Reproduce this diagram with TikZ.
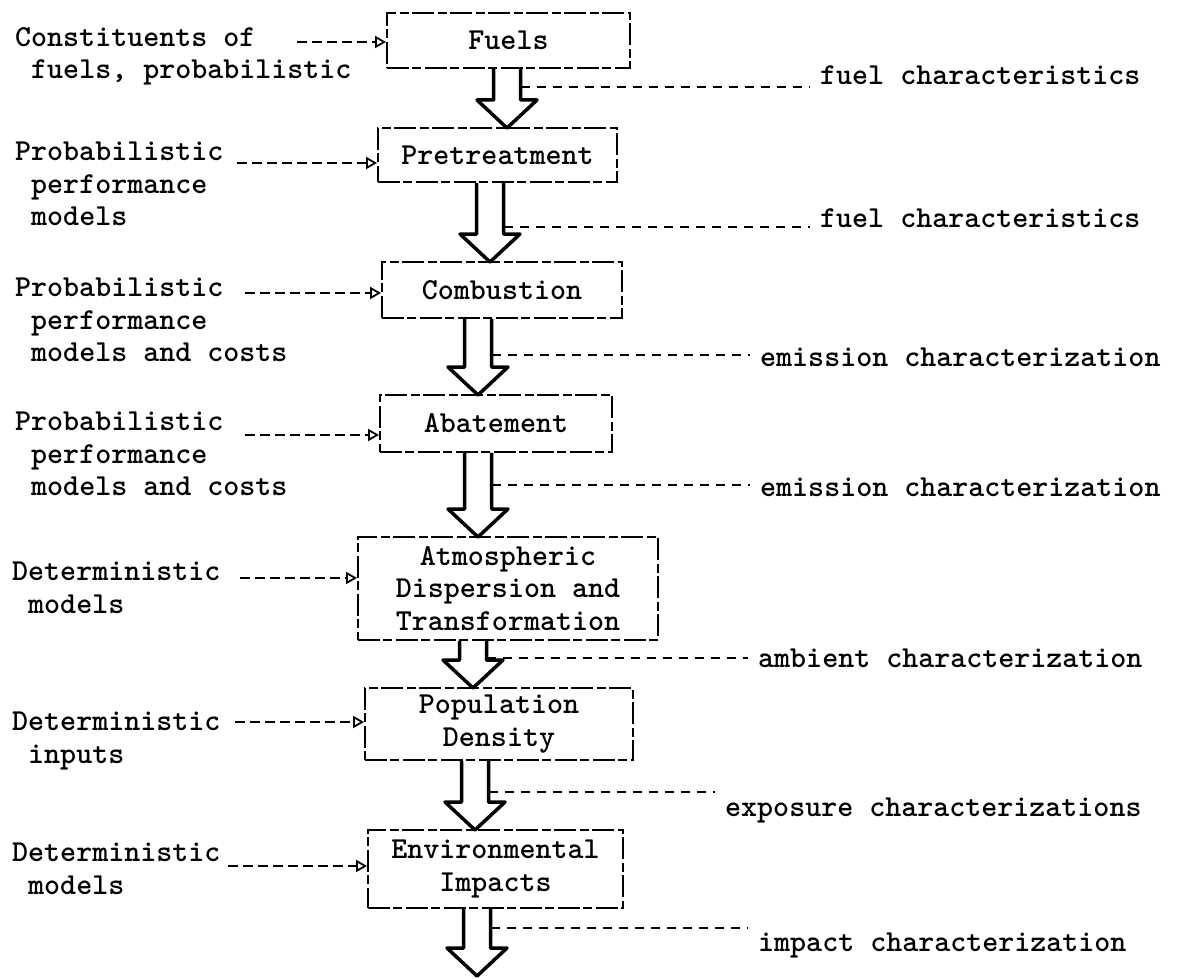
\documentclass[tikz,border=0pt]{standalone}
\usetikzlibrary{arrows.meta,calc}

\newcommand{\typew}{\fontsize{30.5}{32.5}\selectfont\ttfamily\bfseries}

\tikzset{
  stage/.style={draw, line width=1.8pt, dash pattern=on 22pt off 3pt on 9pt off 4pt,
    inner sep=0pt, align=center, font=\typew},
  source/.style={anchor=north west, inner sep=0pt, align=left, font=\typew},
  output/.style={anchor=base west, inner sep=0pt, font=\typew},
  hollow/.style={line width=3.5pt, line join=round},
  feed/.style={line width=1.2pt, dash pattern=on 9pt off 7pt, shorten >=10pt},
  feedin/.style={line width=1.4pt, dash pattern=on 10pt off 5pt,
    -{Triangle[open, length=11pt, width=12pt, line width=1.8pt]}}
}

% hollow block arrow from the bottom of a box down to a tip
\newcommand{\hollowarrow}[2]{%
  \draw[hollow] ($(#1.south -| #2)+(-13.5,0)$) -- ($(#2)+(-13.5,-28)$)
    -- ($(#2)+(-30,-28)$) -- (#2) -- ($(#2)+(30,-28)$)
    -- ($(#2)+(13.5,-28)$) -- ($(#1.south -| #2)+(13.5,0)$);}

\begin{document}
\begin{tikzpicture}[x=1pt,y=-1pt]
  \useasboundingbox (0,0) rectangle (1178,979);

  % stages
  \node[stage, minimum width=243pt, minimum height=55pt] (fuels) at (508.5,40.5) {Fuels};
  \node[stage, minimum width=239pt, minimum height=54pt] (pretreat) at (497.5,155) {Pretreatment};
  \node[stage, minimum width=240pt, minimum height=56pt] (combust) at (502,290) {Combustion};
  \node[stage, minimum width=232pt, minimum height=57pt] (abate) at (496,423.5) {Abatement};
  \node[stage, minimum width=300pt, minimum height=103pt] (atmos) at (508,588.5)
    {Atmospheric\\Dispersion and\\Transformation};
  \node[stage, minimum width=268pt, minimum height=72pt] (popdens) at (499,724)
    {Population\\Density};
  \node[stage, minimum width=255pt, minimum height=78pt] (envimp) at (495.5,869)
    {Environmental\\Impacts};

  % arrow tips
  \coordinate (t1) at (507,128);
  \coordinate (t2) at (490,262);
  \coordinate (t3) at (478,395);
  \coordinate (t4) at (478,537);
  \coordinate (t5) at (473,688);
  \coordinate (t6) at (475,830);
  \coordinate (t7) at (477,976);

  \hollowarrow{fuels}{t1}
  \hollowarrow{pretreat}{t2}
  \hollowarrow{combust}{t3}
  \hollowarrow{abate}{t4}
  \hollowarrow{atmos}{t5}
  \hollowarrow{popdens}{t6}
  \hollowarrow{envimp}{t7}

  % inputs on the left
  \node[source] (in1) at (15,27) {Constituents of\\\phantom{x}fuels, probabilistic};
  \node[source] (in2) at (15,142) {Probabilistic\\\phantom{x}performance\\\phantom{x}models};
  \node[source] (in3) at (15,278) {Probabilistic\\\phantom{x}performance\\\phantom{x}models and costs};
  \node[source] (in4) at (15,412) {Probabilistic\\\phantom{x}performance\\\phantom{x}models and costs};
  \node[source] (in5) at (12,562) {Deterministic\\\phantom{x}models};
  \node[source] (in6) at (12,712) {Deterministic\\\phantom{x}inputs};
  \node[source] (in7) at (12,843) {Deterministic\\\phantom{x}models};

  \coordinate (c1) at (297,42);
  \coordinate (c2) at (237,163);
  \coordinate (c3) at (245,293);
  \coordinate (c4) at (245,435);
  \coordinate (c5) at (240,578);
  \coordinate (c6) at (235,722);
  \coordinate (c7) at (228,866);

  \draw[feedin] (c1) -- (c1 -| fuels.west);
  \draw[feedin] (c2) -- (c2 -| pretreat.west);
  \draw[feedin] (c3) -- (c3 -| combust.west);
  \draw[feedin] (c4) -- (c4 -| abate.west);
  \draw[feedin] (c5) -- (c5 -| atmos.west);
  \draw[feedin] (c6) -- (c6 -| popdens.west);
  \draw[feedin] (c7) -- (c7 -| envimp.west);

  % outputs on the right
  \node[output] (out1) at (820,85) {fuel characteristics};
  \node[output] (out2) at (820,227) {fuel characteristics};
  \node[output] (out3) at (760,366) {emission characterization};
  \node[output] (out4) at (760,496) {emission characterization};
  \node[output] (out5) at (758,667) {ambient characterization};
  \node[output] (out6) at (725,816) {exposure characterizations};
  \node[output] (out7) at (758,951) {impact characterization};

  \coordinate (s1) at ($(t1)+(13.5,-41)$);
  \coordinate (s2) at ($(t2)+(13.5,-35)$);
  \coordinate (s3) at ($(t3)+(13.5,-40)$);
  \coordinate (s4) at ($(t4)+(13.5,-52)$);
  \coordinate (s5) at ($(t5)+(13.5,-30)$);
  \coordinate (s6) at ($(t6)+(13.5,-38)$);
  \coordinate (s7) at ($(t7)+(13.5,-48)$);

  \draw[feed] (s1) -- (s1 -| out1.west);
  \draw[feed] (s2) -- (s2 -| out2.west);
  \draw[feed] (s3) -- (s3 -| out3.west);
  \draw[feed] (s4) -- (s4 -| out4.west);
  \draw[feed] (s5) -- (s5 -| out5.west);
  \draw[feed] (s6) -- (s6 -| out6.west);
  \draw[feed] (s7) -- (s7 -| out7.west);
\end{tikzpicture}
\end{document}
